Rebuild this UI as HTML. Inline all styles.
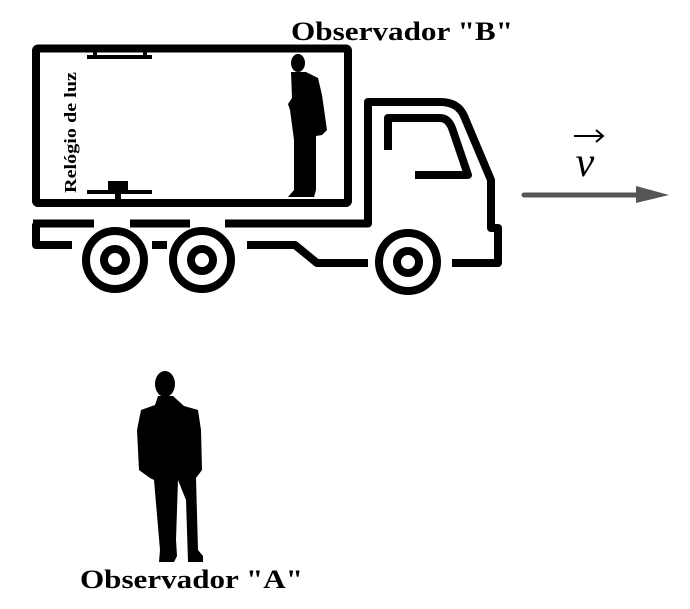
<!DOCTYPE html>
<html><head><meta charset="utf-8"><style>
html,body{margin:0;padding:0;background:#fff;}
body{width:690px;height:604px;overflow:hidden;}
</style></head><body>
<svg width="690" height="604" viewBox="0 0 690 604" xmlns="http://www.w3.org/2000/svg">
<g fill="none" stroke="#000" stroke-width="8" stroke-linejoin="round">
<rect x="36" y="48.5" width="312" height="154.5" rx="2"/>
<path d="M33 223.5 H94 M130 223.5 H190 M225 223.5 H368 V102 H440 Q458 102 464 116 L491 180 V228 H498 V263 H452"/>
<path d="M368 263 H317 L295 245 H247"/>
<path d="M167 245 H152"/>
<path d="M72 245 H36 V223.5"/>
<path d="M388 150 V118 H440 Q448 118 452 128 L468 175 H415"/>
<circle cx="115" cy="260" r="29"/>
<circle cx="115" cy="260" r="11"/>
<circle cx="202" cy="260" r="29"/>
<circle cx="202" cy="260" r="11"/>
<circle cx="408" cy="262" r="29"/>
<circle cx="408" cy="262" r="11"/>
</g>
<g fill="#000">
<rect x="87" y="55" width="65" height="4"/>
<rect x="93" y="50" width="4" height="6"/>
<rect x="143" y="50" width="4" height="6"/>
<rect x="87" y="190" width="65" height="4"/>
<rect x="108" y="181" width="20" height="10"/>
<rect x="115" y="192" width="6" height="7"/>
<!-- man B -->
<ellipse cx="298" cy="63" rx="7" ry="9"/>
<path d="M291 72 L306 72 L318 78 L322 95 L327 130 L322 135 L316 136 L316 190 L314 197 L288 197 L294 190 L294 140 L290 110 L288 104 L292 98 Z"/>
<!-- man A -->
<ellipse cx="165" cy="384" rx="10" ry="13"/>
<path d="M158 396 L173 396 L184 406 L198 410 L201 430 L202 470 L196 478 L198 550 L203 556 L203 562 L188 562 L186 500 L178 480 L176 540 L177 556 L174 562 L159 562 L160 550 L154 480 L150 478 L139 470 L137 430 L141 410 L155 405 Z"/>
</g>
<line x1="524" y1="195" x2="640" y2="195" stroke="#555" stroke-width="5" stroke-linecap="round"/>
<polygon points="636,186 669,195 636,203" fill="#555"/>
<text x="585" y="176" font-family="Liberation Serif, serif" font-style="italic" font-size="42" text-anchor="middle">v</text>
<path d="M574 136 H602 M596 130 L603 136 L596 142" stroke="#000" stroke-width="2" fill="none"/>
<text x="291" y="40" font-family="Liberation Serif, serif" font-weight="bold" font-size="26" textLength="222" lengthAdjust="spacingAndGlyphs">Observador "B"</text>
<text x="80" y="588" font-family="Liberation Serif, serif" font-weight="bold" font-size="26" textLength="223" lengthAdjust="spacingAndGlyphs">Observador "A"</text>
<text transform="translate(76,193) rotate(-90)" font-family="Liberation Serif, serif" font-weight="bold" font-size="17" textLength="121" lengthAdjust="spacingAndGlyphs">Relógio de luz</text>
</svg>
</body></html>
